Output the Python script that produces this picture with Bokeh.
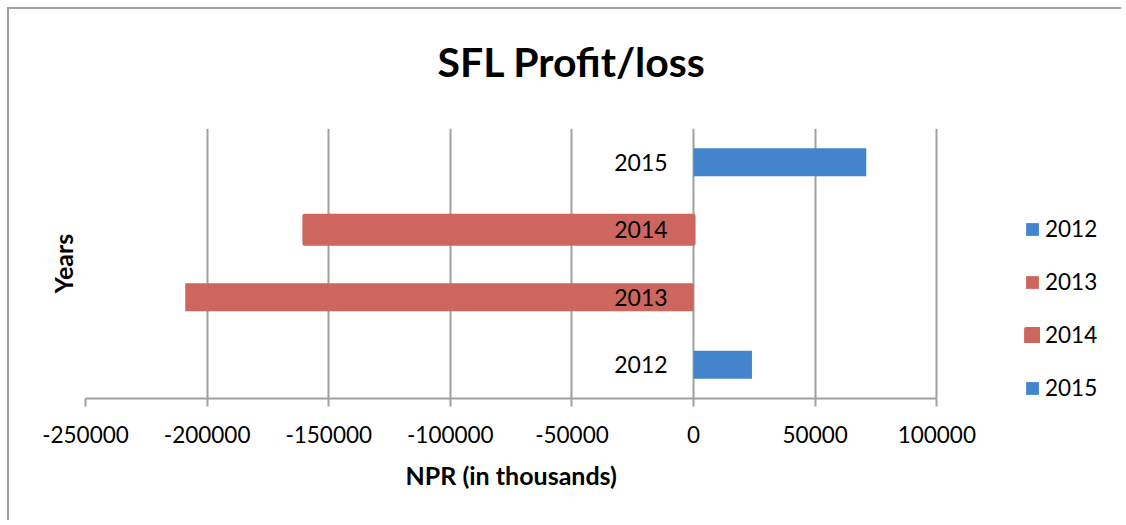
from bokeh.plotting import figure
from bokeh.models import FactorRange, FixedTicker, Legend, LegendItem, Title
from bokeh.core.properties import value
from bokeh.embed import file_html
from bokeh.resources import INLINE

# ---- data ----
years = ["2012", "2013", "2014", "2015"]
profit = [24000, -209000, -160000, 71000]
series_colors = ["#4385CD", "#CD665F", "#CD665F", "#4385CD"]
x_ticks = [-250000, -200000, -150000, -100000, -50000, 0, 50000, 100000]
title_text = "SFL Profit/loss"
x_title = "NPR (in thousands)"
y_title = "Years"

FONT = "Lato"
GRID = "#A0A0A0"
X_END = 171000  # extra room to the right of the last tick, holds the legend
outline_w = [0, 0, 4, 0]

p = figure(width=1114, height=513,
           x_range=(x_ticks[0], X_END),
           y_range=FactorRange(factors=years, range_padding=0),
           output_backend="svg", toolbar_location=None,
           min_border_left=76, min_border_right=14,
           min_border_top=119, min_border_bottom=124)
p.margin = (7, 0, 0, 7)
p.styles = {"border-top": "2px solid #A0A0A0", "border-left": "2px solid #A0A0A0"}
p.outline_line_color = None
p.background_fill_color = "white"
p.border_fill_color = "white"

# spacer between the frame and the title (first added = closest to frame)
spacer = Title(text=" ", text_font_size="2px", standoff=37)
p.add_layout(spacer, "above")
t = Title(text=title_text, align="left", vertical_align="top", text_font=FONT,
          text_font_size="41px", text_font_style="bold", text_color="black",
          standoff=0, offset=352)
p.add_layout(t, "above")

renderers = []
for yr, v, c, lw in zip(years, profit, series_colors, outline_w):
    r = p.hbar(y=[yr], left=[0], right=[v], height=0.415, fill_color=c,
               line_color=c, line_width=lw, line_join="round")
    renderers.append((yr, r))

p.text(x=[0] * len(years), y=years, text=years, x_offset=-26,
       text_align="right", text_baseline="middle",
       text_font=value(FONT), text_font_size="23px", text_color="black")

# x axis
p.xaxis.ticker = FixedTicker(ticks=x_ticks)
p.xaxis.bounds = (x_ticks[0], x_ticks[-1])
p.xaxis.major_label_overrides = {t_: str(t_) for t_ in x_ticks}
p.xaxis.axis_line_color = GRID
p.xaxis.axis_line_width = 2
p.xaxis.major_tick_line_color = GRID
p.xaxis.major_tick_line_width = 2
p.xaxis.major_tick_out = 8
p.xaxis.major_tick_in = 0
p.xaxis.minor_tick_line_color = None
p.xaxis.major_label_text_font = FONT
p.xaxis.major_label_text_font_size = "22.5px"
p.xaxis.major_label_text_color = "black"
p.xaxis.major_label_standoff = 19

xt = Title(text=x_title, align="left", text_font=FONT, text_font_size="25px",
           text_font_style="bold", text_color="black", standoff=24, offset=320)
p.add_layout(xt, "below")

# y axis
p.yaxis.axis_line_color = None
p.yaxis.major_tick_line_color = None
p.yaxis.minor_tick_line_color = None
p.yaxis.major_label_text_font_size = "0px"
p.yaxis.major_label_standoff = 0
p.yaxis.axis_label = y_title
p.yaxis.axis_label_text_font = FONT
p.yaxis.axis_label_text_font_size = "25px"
p.yaxis.axis_label_text_font_style = "bold"
p.yaxis.axis_label_text_color = "black"
p.yaxis.axis_label_standoff = 2

p.xgrid.grid_line_color = GRID
p.xgrid.grid_line_width = 2
p.ygrid.grid_line_color = None

legend = Legend(items=[LegendItem(label=yr, renderers=[r]) for yr, r in renderers],
                location=(939, -3), orientation="vertical",
                label_text_font=FONT, label_text_font_size="22.5px",
                label_text_color="black", glyph_width=16, glyph_height=16,
                label_height=22, spacing=26, padding=0, margin=0,
                label_standoff=5, border_line_color=None,
                background_fill_alpha=0)
p.add_layout(legend, "center")

open("out.html", "w").write(file_html(p, INLINE))
